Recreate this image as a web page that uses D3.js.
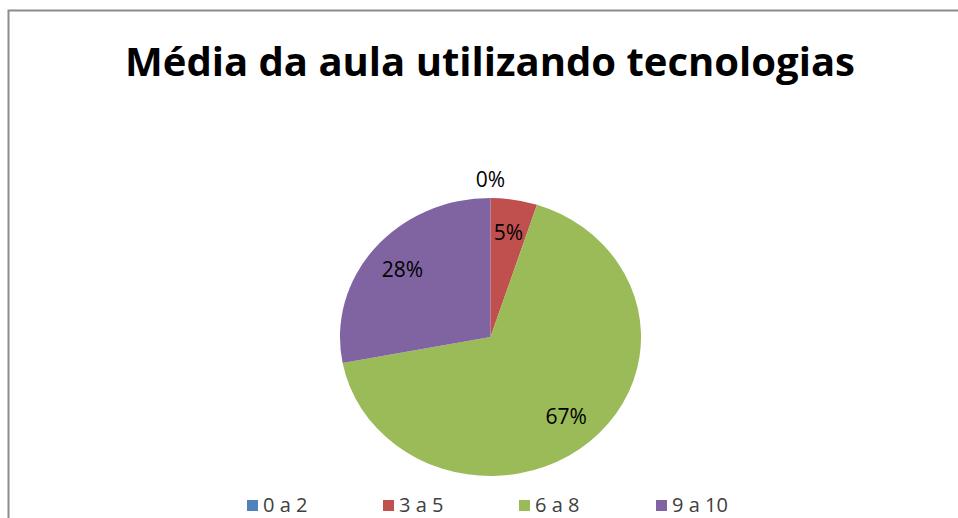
<!DOCTYPE html>
<html>
<head>
<meta charset="utf-8">
<script src="https://cdn.jsdelivr.net/npm/d3@7"></script>
<style>
  body { margin: 0; background: #fff; }
  svg { display: block; font-family: "Open Sans", sans-serif; }
</style>
</head>
<body>
<svg id="chart"></svg>
<script>
const categories = ["0 a 2", "3 a 5", "6 a 8", "9 a 10"];
const values = [0, 5, 67, 28];
const colors = ["#4F81BD", "#C0504D", "#9BBB59", "#8064A2"];
const title = "Média da aula utilizando tecnologias";

const width = 958, height = 518;
const cx = 490.5, cy = 337, radius = 139, stretch = 1.083;

const svg = d3.select("#chart").attr("width", width).attr("height", height);

// frame of the chart area
svg.append("rect")
  .attr("x", 8.5).attr("y", 10.5)
  .attr("width", 1000).attr("height", 600)
  .attr("fill", "#fff")
  .attr("stroke", "#8c8c8c")
  .attr("stroke-width", 2);

svg.append("text")
  .attr("x", 490).attr("y", 76)
  .attr("text-anchor", "middle")
  .attr("font-size", "39px")
  .attr("font-weight", "bold")
  .attr("fill", "#000")
  .attr("textLength", 730)
  .attr("lengthAdjust", "spacingAndGlyphs")
  .text(title);

const data = categories.map((c, i) => ({ cat: c, value: values[i], color: colors[i] }));
const total = d3.sum(values);

const pie = d3.pie().sort(null).value((d) => d.value);
const arcs = pie(data);

const arc = d3.arc().innerRadius(0).outerRadius(radius);
const labelArc = d3.arc().innerRadius(radius * 0.76).outerRadius(radius * 0.76);
const outArc = d3.arc().innerRadius(radius * 1.13).outerRadius(radius * 1.13);

const g = svg.append("g")
  .attr("transform", `translate(${cx},${cy}) scale(${stretch},1)`);

g.selectAll("path")
  .data(arcs)
  .join("path")
  .attr("d", arc)
  .attr("fill", (d) => d.data.color);

// labels
const lg = svg.append("g").attr("transform", `translate(${cx},${cy})`);
lg.selectAll("text")
  .data(arcs)
  .join("text")
  .attr("transform", (d) => {
    const c = d.data.value === 0 ? outArc.centroid(d) : labelArc.centroid(d);
    return `translate(${c[0] * stretch},${c[1]})`;
  })
  .attr("text-anchor", "middle")
  .attr("dy", "0.35em")
  .attr("font-size", "21px")
  .attr("fill", "#000")
  .text((d) => Math.round((d.data.value / total) * 100) + "%");

// legend
const legendX = [247, 383, 519, 656];
const legend = svg.append("g").attr("transform", "translate(0,505)");
data.forEach((d, i) => {
  const row = legend.append("g").attr("transform", `translate(${legendX[i]},0)`);
  row.append("rect")
    .attr("x", 0).attr("y", -5)
    .attr("width", 11).attr("height", 11)
    .attr("fill", d.color);
  row.append("text")
    .attr("x", 16).attr("y", 0)
    .attr("dy", "0.35em")
    .attr("font-size", "20px")
    .attr("fill", "#404040")
    .text(d.cat);
});
</script>
</body>
</html>
